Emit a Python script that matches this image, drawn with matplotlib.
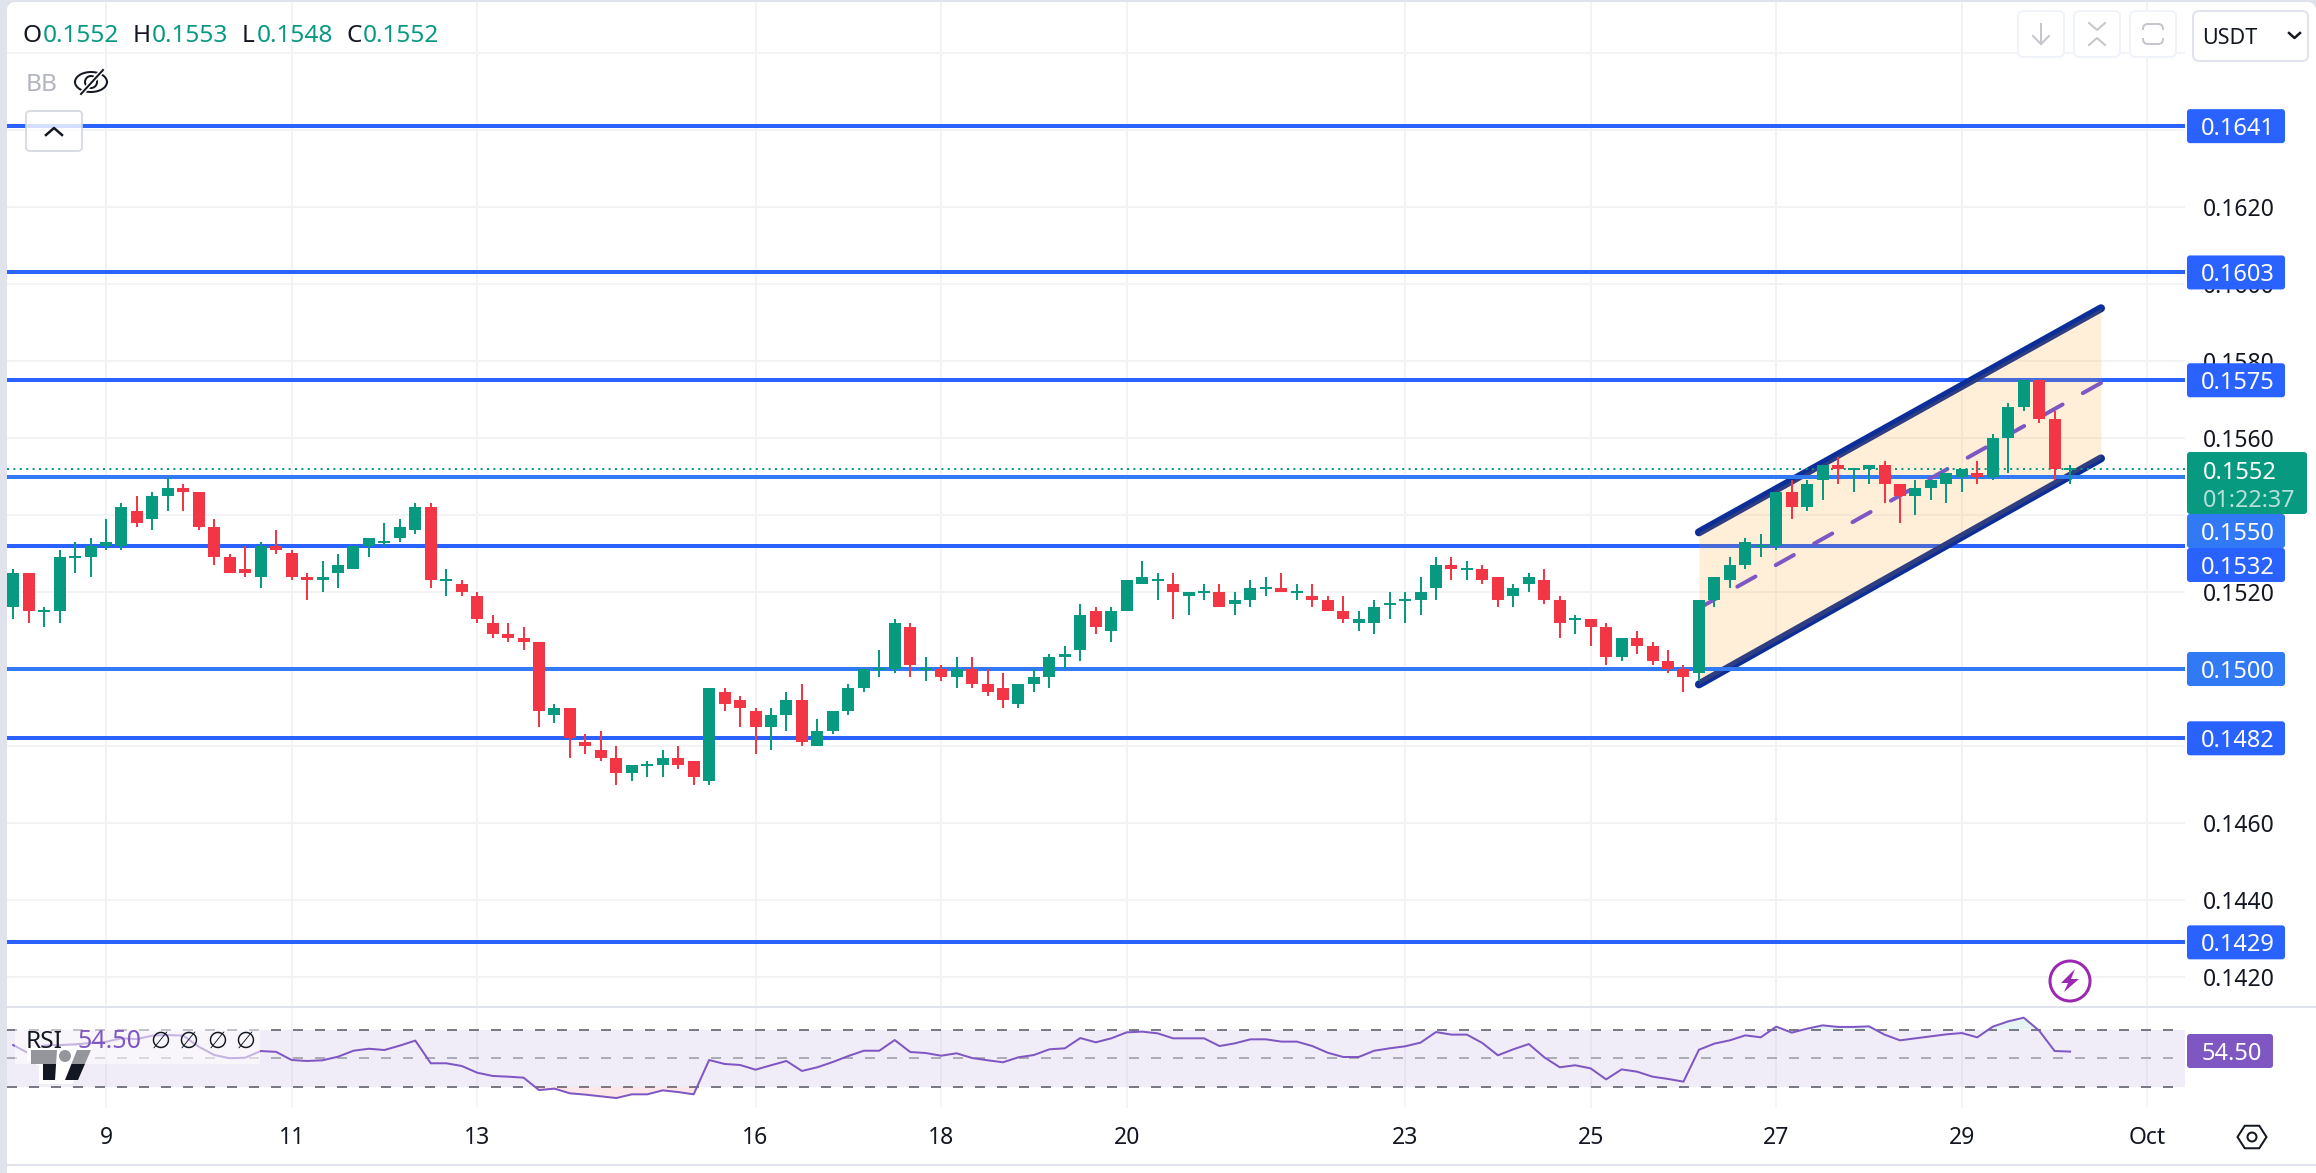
import numpy as np
import matplotlib
matplotlib.use('Agg')
import matplotlib.pyplot as plt
from matplotlib.patches import FancyBboxPatch, Rectangle, Circle, Polygon
from matplotlib.ticker import FormatStrFormatter

plt.rcParams['font.family'] = ['Noto Sans', 'DejaVu Sans']

# four hour candles, prices in 1e-4 steps (tick size of the pair)
opens = [1516,1525,1515,1515,1529,1529,1532,1532,1541,1539,1545,1547,1546,1537,1529,1526,1524,1532,1530,1524,
         1523,1525,1526,1532,1533,1534,1536,1542,1523,1522,1519,1512,1509,1508,1507,1488,1490,1481,1479,1477,
         1473,1475,1475,1477,1476,1471,1494,1492,1489,1485,1488,1492,1480,1484,1489,1495,1500,1500,1511,1500,
         1500,1498,1500,1496,1495,1491,1496,1498,1503,1505,1515,1510,1515,1522,1523,1522,1519,1520,1520,1517,
         1518,1521,1521,1520,1519,1518,1515,1512,1512,1517,1518,1518,1521,1527,1526,1526,1524,1519,1522,1523,
         1518,1513,1513,1511,1503,1508,1506,1502,1500,1499,1518,1523,1527,1532,1532,1546,1542,1549,1553,1552,
         1552,1553,1548,1545,1547,1548,1550,1551,1550,1560,1568,1575,1565,1552]
highs = [1526,1525,1516,1531,1533,1534,1539,1543,1545,1546,1550,1548,1546,1539,1530,1532,1533,1536,1531,1525,
         1528,1530,1532,1534,1538,1539,1543,1543,1526,1523,1520,1514,1512,1511,1507,1491,1490,1483,1484,1480,
         1475,1476,1479,1480,1476,1495,1495,1493,1490,1490,1494,1496,1487,1489,1496,1500,1505,1513,1512,1503,
         1501,1503,1503,1500,1499,1496,1500,1504,1506,1517,1516,1516,1523,1528,1525,1525,1520,1522,1522,1520,
         1523,1524,1525,1522,1522,1519,1519,1515,1518,1520,1520,1524,1529,1529,1528,1527,1524,1522,1525,1526,
         1519,1514,1513,1512,1508,1510,1507,1505,1501,1518,1524,1529,1534,1535,1546,1549,1549,1553,1555,1552,
         1553,1554,1548,1549,1549,1551,1552,1554,1561,1569,1575,1575,1567,1553]
lows = [1513,1512,1511,1512,1525,1524,1531,1531,1537,1536,1541,1541,1536,1527,1525,1524,1521,1530,1523,1518,
        1520,1521,1526,1529,1532,1533,1535,1521,1519,1519,1512,1508,1507,1505,1485,1486,1477,1478,1476,1470,
        1471,1472,1472,1474,1470,1470,1489,1485,1478,1479,1484,1480,1480,1483,1488,1494,1498,1499,1498,1497,
        1497,1495,1495,1493,1490,1490,1494,1495,1500,1502,1509,1507,1515,1522,1518,1513,1514,1518,1516,1514,
        1516,1519,1520,1518,1516,1515,1512,1510,1509,1513,1512,1514,1518,1523,1523,1522,1516,1516,1520,1517,
        1508,1509,1506,1501,1502,1504,1501,1499,1494,1497,1516,1521,1526,1529,1531,1539,1541,1544,1548,1546,
        1548,1543,1538,1540,1544,1543,1546,1548,1549,1551,1567,1564,1549,1548]
closes = [1525,1515,1515,1529,1529,1532,1533,1542,1538,1545,1547,1546,1537,1529,1525,1525,1532,1531,1524,1523,
          1524,1527,1532,1534,1533,1537,1542,1523,1523,1520,1513,1509,1508,1507,1489,1490,1482,1480,1477,1473,
          1475,1475,1477,1475,1472,1495,1491,1490,1485,1488,1492,1481,1484,1489,1495,1500,1500,1512,1501,1500,
          1498,1500,1496,1494,1492,1496,1498,1503,1504,1514,1511,1515,1523,1524,1523,1520,1520,1520,1516,1518,
          1521,1521,1520,1520,1518,1515,1513,1513,1516,1517,1518,1520,1527,1526,1526,1523,1518,1521,1524,1518,
          1512,1513,1511,1503,1508,1506,1502,1500,1498,1518,1524,1527,1533,1532,1546,1542,1548,1553,1552,1552,
          1553,1548,1545,1547,1549,1551,1552,1550,1560,1568,1575,1565,1552,1552]

rsi = [59.1,53.3,58.8,59.1,59.6,60.5,61.4,63.8,63.3,65.7,66.1,65.7,57.9,52.1,49.8,50.2,54.9,54.3,48.6,47.9,
       48.4,50.9,55.1,56.5,55.6,58.7,62.2,46.3,46.3,44.4,39.7,37.4,36.9,36.2,27.5,28.5,25.2,24.3,23.1,21.9,
       24.5,24.5,27.3,26.1,24.5,48.6,45.8,45.1,41.8,44.9,47.9,40.9,43.5,47.2,51.4,55.1,55.1,62.6,54.2,53.5,
       51.6,53.3,50.0,48.4,47.0,50.5,52.1,56.1,56.8,64.0,61.0,63.8,68.0,68.5,67.3,63.8,63.8,63.8,58.4,60.3,
       63.1,63.1,61.5,61.5,58.4,53.7,50.7,50.7,55.1,56.8,58.2,60.8,68.2,66.4,66.4,60.5,51.9,56.1,59.8,50.5,
       43.5,44.9,42.7,35.0,42.0,40.4,36.9,35.3,33.4,55.8,60.1,62.4,65.9,64.5,72.0,67.8,70.6,72.9,71.8,71.8,
       72.2,66.4,62.4,63.8,65.2,66.6,67.5,64.5,72.0,75.7,78.3,69.2,54.9,54.5]

levels_dark = [0.1641, 0.1603, 0.1575, 0.1532, 0.1482, 0.1429]
levels_light = [0.1550, 0.1500]
last_price = 0.1552

channel_x = [109, 135]
channel_upper = [0.15355, 0.15937]
channel_lower = [0.14960, 0.15547]
channel_mid = [0.15158, 0.15743]

day_pos = [6, 18, 30, 48, 60, 72, 90, 102, 114, 126, 138]
day_labels = ['9', '11', '13', '16', '18', '20', '23', '25', '27', '29', 'Oct']
price_ticks = [0.1420, 0.1440, 0.1460, 0.1480, 0.1500, 0.1520, 0.1540, 0.1560, 0.1580, 0.1600, 0.1620, 0.1640]

GREEN = '#089981'
RED = '#F23645'
BLUE = '#2962FF'
LBLUE = '#3179F5'
PURPLE = '#7E57C2'
NAVY = '#0B2E98'
GRID = '#F2F3F5'
EDGE = '#E0E3EB'
TEXT = '#131722'

W, H = 2316, 1173
PX = 72 / 100  # one pixel in points


def fx(p):
    return p / W


def fy(p):
    return 1 - p / H


def price_y(p):
    return 515 + (0.1540 - p) * 38500


fig = plt.figure(figsize=(W / 100, H / 100), dpi=100, facecolor='white')
ax = fig.add_axes([fx(7), fy(1007), fx(2185 - 7), (1007 - 2) / H])
ax2 = fig.add_axes([fx(7), fy(1108), fx(2185 - 7), (1108 - 1008) / H])

xlim = (-0.401, 140.43)
o = np.array(opens) / 1e4
h = np.array(highs) / 1e4
l = np.array(lows) / 1e4
c = np.array(closes) / 1e4
xs = np.arange(len(o))

# main pane
ax.set_xlim(*xlim)
ax.set_ylim(0.1540 - (1007 - 515) / 38500, 0.1540 + (515 - 2) / 38500)
for s in ax.spines.values():
    s.set_visible(False)
ax.set_yticks(price_ticks)
ax.yaxis.tick_right()
ax.yaxis.set_major_formatter(FormatStrFormatter('%.4f'))
ax.tick_params(axis='y', length=0, pad=13, labelsize=16.5, labelcolor=TEXT)
ax.set_xticks([])
for d in day_pos:
    ax.axvline(d, color=GRID, lw=2 * PX, zorder=0)
for p in price_ticks + [0.1660]:
    ax.axhline(p, color=GRID, lw=2 * PX, zorder=0)

for p in levels_dark:
    ax.axhline(p, color=BLUE, lw=4 * PX, zorder=2, solid_capstyle='butt')
ax.plot(channel_x, channel_upper, color=NAVY, lw=8 * PX, solid_capstyle='round', zorder=2.2)
ax.plot(channel_x, channel_lower, color=NAVY, lw=8 * PX, solid_capstyle='round', zorder=2.2)
ax.fill_between(channel_x, channel_lower, channel_upper, color='#FF9800', alpha=0.15, lw=0, zorder=2.4)
for p in levels_light:
    ax.axhline(p, color=LBLUE, lw=4 * PX, zorder=2.6, solid_capstyle='butt')
ax.plot(channel_x, channel_mid, color=PURPLE, lw=4 * PX, ls=(0, (5.2, 5.8)), dash_capstyle='round', zorder=2.8)
ax.axhline(last_price, color=GREEN, lw=2 * PX, ls=(0, (1, 2.2)), zorder=3)

colors = np.where(c >= o, GREEN, RED)
min_body = 2 / 38500
body_low = np.minimum(o, c)
body_h = np.abs(c - o)
thin = body_h < min_body
body_low[thin] = body_low[thin] - min_body / 2
body_h[thin] = min_body
ax.vlines(xs, l, h, colors=colors, lw=2 * PX, zorder=4)
ax.bar(xs, body_h, bottom=body_low, width=12 / 15.465, color=colors, lw=0, zorder=4.1)

# rsi pane
ax2.set_xlim(*xlim)
ax2.set_ylim(50 - 50 / 1.425, 50 + 50 / 1.425)
for s in ax2.spines.values():
    s.set_visible(False)
ax2.set_yticks([])
ax2.set_xticks(day_pos)
ax2.set_xticklabels(day_labels)
ax2.tick_params(axis='x', length=0, pad=13, labelsize=16.5, labelcolor=TEXT)
ax2.get_xticklabels()[-1].set_fontweight('bold')
ax2.patch.set_alpha(0)
for d in day_pos:
    ax2.axvline(d, color=GRID, lw=1.5 * PX, zorder=0)
ax2.axhspan(30, 70, color=PURPLE, alpha=0.11, lw=0, zorder=1)
for v, col in [(70, '#787B86'), (30, '#787B86'), (50, '#ABADB5')]:
    ax2.axhline(v, color=col, lw=2 * PX, ls=(0, (5, 6)), zorder=2)
r = np.array(rsi)
ax2.fill_between(xs, 70, r, where=r > 70, interpolate=True, color=GREEN, alpha=0.1, lw=0, zorder=2)
ax2.fill_between(xs, 30, r, where=r < 30, interpolate=True, color=RED, alpha=0.12, lw=0, zorder=2)
ax2.plot(xs, r, color=PURPLE, lw=2 * PX, zorder=3)

# everything around the panes, in pixels
ov = fig.add_axes([0, 0, 1, 1], zorder=10)
ov.set_xlim(0, W)
ov.set_ylim(H, 0)
ov.axis('off')
ov.patch.set_alpha(0)

ov.add_patch(Rectangle((0, 0), 7, H, fc=EDGE, lw=0))
ov.add_patch(Rectangle((0, 0), W, 2, fc=EDGE, lw=0))
ov.add_patch(Rectangle((7, 1006), W, 2, fc=EDGE, lw=0))
ov.add_patch(Rectangle((7, 1164), W, 2, fc=EDGE, lw=0))
t = np.linspace(0, np.pi / 2, 12)
ov.add_patch(Polygon(np.r_[[[7, 2]], np.c_[15 - 8 * np.cos(t[::-1]), 10 - 8 * np.sin(t[::-1])]], fc=EDGE, lw=0))
ov.add_patch(Polygon(np.r_[[[W, 2]], np.c_[W - 8 + 8 * np.cos(t[::-1]), 10 - 8 * np.sin(t[::-1])]], fc=EDGE, lw=0))


def tag(txt, y, col, x1=2285, hh=34):
    ov.add_patch(FancyBboxPatch((2187, y - hh / 2), x1 - 2187, hh, boxstyle='round,pad=0,rounding_size=3', fc=col, lw=0))
    ov.text(2238 if x1 == 2285 else 2232, y, txt, color='white', fontsize=17, ha='center', va='center_baseline')


tag('0.1641', price_y(0.1641), BLUE)
tag('0.1603', price_y(0.1603), BLUE)
tag('0.1575', price_y(0.1575), BLUE)
tag('0.1500', price_y(0.1500), LBLUE)
tag('0.1482', price_y(0.1482), BLUE)
tag('0.1429', price_y(0.1429), BLUE)
tag('0.1550', 531, LBLUE)
tag('0.1532', 565, BLUE)
ov.add_patch(FancyBboxPatch((2187, 452), 120, 62, boxstyle='round,pad=0,rounding_size=3', fc=GREEN, lw=0))
ov.text(2203, 470, '0.1552', color='white', fontsize=17, ha='left', va='center_baseline')
ov.text(2203, 498, '01:22:37', color='#B5E0D9', fontsize=16.8, ha='left', va='center_baseline')
tag('54.50', 1051, PURPLE, x1=2273)

# header
hdr_y = 33
for x, s, col in [(23, 'O', TEXT), (43, '0.1552', GREEN), (133, 'H', TEXT), (152, '0.1553', GREEN),
                  (242, 'L', TEXT), (257, '0.1548', GREEN), (347, 'C', TEXT), (363, '0.1552', GREEN)]:
    ov.text(x, hdr_y, s, color=col, fontsize=17.6, ha='left', va='center_baseline')
ov.text(26, 82, 'BB', color='#B2B5BE', fontsize=17.6, ha='left', va='center_baseline')

# eye icon
a = np.linspace(0, np.pi, 20)
ov.plot(91 + 16 * np.cos(a), 82 - 10 * np.sin(a), color=TEXT, lw=2 * PX)
ov.plot(91 + 16 * np.cos(a), 82 + 10 * np.sin(a), color=TEXT, lw=2 * PX)
ov.add_patch(Circle((91, 82), 6, fc='none', ec=TEXT, lw=2 * PX))
ov.plot([81, 103], [94, 70], color='white', lw=5 * PX)
ov.plot([81, 103], [94, 70], color=TEXT, lw=2 * PX)

# collapse button
ov.add_patch(FancyBboxPatch((26, 111), 56, 40, boxstyle='round,pad=0,rounding_size=4', fc='white', ec='#D1D4DC', lw=2 * PX, alpha=0.8))
ov.plot([46, 54, 62], [135, 128, 135], color=TEXT, lw=2.5 * PX)

# top right buttons
for x0 in [2018, 2074, 2130]:
    ov.add_patch(FancyBboxPatch((x0, 11), 46, 46, boxstyle='round,pad=0,rounding_size=6', fc='white', ec='#F0F3FA', lw=2 * PX))
ov.plot([2041, 2041], [24, 44], color='#C4C6CC', lw=2 * PX)
ov.plot([2033, 2041, 2049], [36, 44, 36], color='#C4C6CC', lw=2 * PX)
ov.plot([2089, 2097, 2105], [23, 30, 23], color='#C4C6CC', lw=2 * PX)
ov.plot([2089, 2097, 2105], [45, 38, 45], color='#C4C6CC', lw=2 * PX)
ov.add_patch(FancyBboxPatch((2143, 24), 20, 20, boxstyle='round,pad=0,rounding_size=5', fc='none', ec='#C4C6CC', lw=2 * PX))
ov.add_patch(Rectangle((2140, 30), 26, 8, fc='white', lw=0))
ov.add_patch(FancyBboxPatch((2193, 11), 115, 50, boxstyle='round,pad=0,rounding_size=6', fc='white', ec=EDGE, lw=2 * PX))
ov.text(2202, 36, 'USDT', color=TEXT, fontsize=15.5, ha='left', va='center_baseline')
ov.plot([2289, 2294.5, 2300], [33, 38, 33], color=TEXT, lw=2.5 * PX)

# lightning badge
ov.add_patch(Circle((2070, 981), 20, fc='white', ec='#9C27B0', lw=3 * PX))
ov.add_patch(Polygon([[2075, 969], [2061, 983], [2068, 983], [2064, 992], [2079, 979], [2071, 979]], fc='#9C27B0', lw=0))

# settings hexagon
ang = np.radians([0, 60, 120, 180, 240, 300])
ov.add_patch(Polygon(np.c_[2252 + 14.5 * np.cos(ang), 1137 + 13 * np.sin(ang)], fc='none', ec=TEXT, lw=2 * PX))
ov.add_patch(Circle((2252, 1137), 4.5, fc='none', ec=TEXT, lw=2 * PX))

# logo under the see-through rsi legend
halo = [[27, 1046], [95, 1046], [72, 1084], [39, 1084], [39, 1066], [27, 1060]]
ov.add_patch(Polygon(halo, fc='white', lw=0))
ov.add_patch(Polygon([[31, 1050], [57, 1050], [55, 1080], [43, 1080], [43, 1064], [31, 1064]], fc=TEXT, lw=0))
ov.add_patch(Circle((65, 1056), 6, fc=TEXT, lw=0))
ov.add_patch(Polygon([[77, 1050], [91, 1050], [78, 1080], [65, 1080]], fc=TEXT, lw=0))
ov.add_patch(Rectangle((15, 1029), 245, 35, fc='white', alpha=0.55, lw=0))

leg_y = 1039
ov.text(26, leg_y, 'RSI', color=TEXT, fontsize=17.6, ha='left', va='center_baseline')
ov.text(77, leg_y, '54.50', color=PURPLE, fontsize=18, ha='left', va='center_baseline')
for x in [160, 188, 217, 245]:
    ov.text(x, leg_y, '\u2205', color=TEXT, fontsize=16.5, ha='center', va='center_baseline')

fig.savefig('out.png', dpi=100)
